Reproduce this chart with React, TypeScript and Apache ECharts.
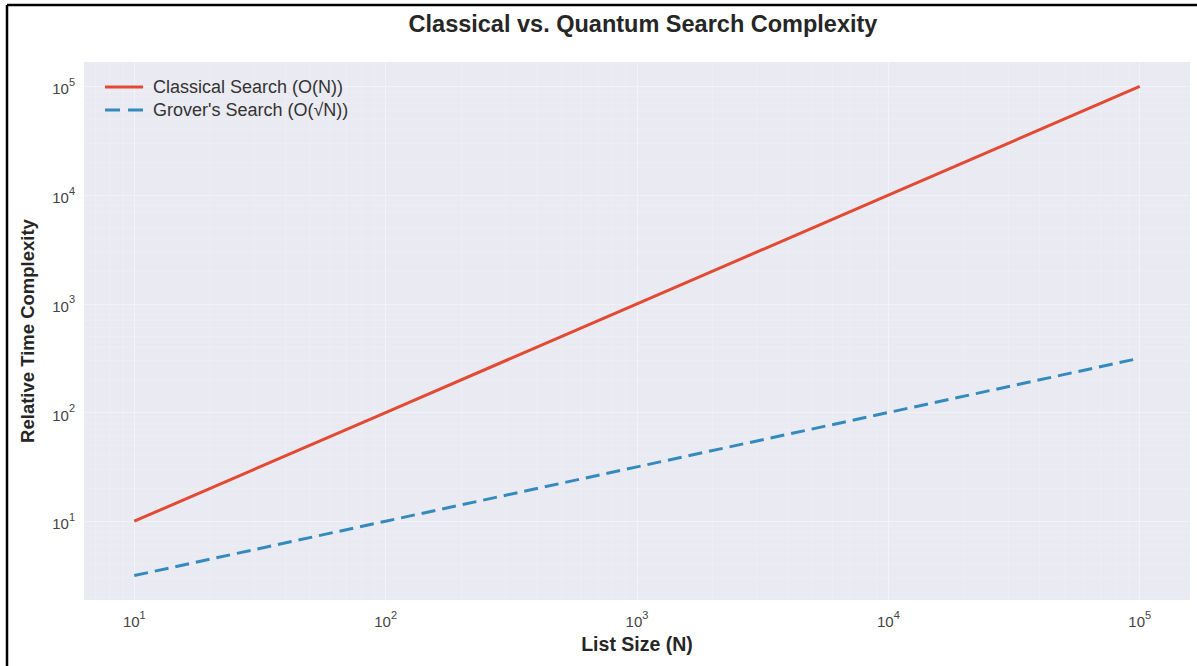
import React, { useEffect, useRef } from "react";
import * as echarts from "echarts";

const listSizes = [10, 100, 1000, 10000, 100000];
const classicalValues = [10, 100, 1000, 10000, 100000];
const groverValues = [3.162, 10, 31.62, 100, 316.2];
const majorTicks = [10, 100, 1000, 10000, 100000];
const tickExponents = ["1", "2", "3", "4", "5"];
const minorMultipliers = [2, 3, 4, 5, 6, 7, 8, 9];
const decades = [1, 10, 100, 1000, 10000];

const X_MIN = 6.3096;
const X_MAX = 158489;
const Y_MIN = 1.884;
const Y_MAX = 167880;

const FONT = "Liberation Sans, Arial, sans-serif";

export default function App() {
  const ref = useRef<HTMLDivElement>(null);
  useEffect(() => {
    document.body.style.margin = "0";
    if (!ref.current) return;
    const chart = echarts.init(ref.current, null, { renderer: "svg" });

    const minorAll: number[] = [];
    decades.forEach((d) => minorMultipliers.forEach((m) => minorAll.push(m * d)));
    const xMinor = minorAll.filter((v) => v > X_MIN && v < X_MAX);
    const yMinor = minorAll.filter((v) => v > Y_MIN && v < Y_MAX);

    const fmt = (v: number) => {
      const i = majorTicks.findIndex((t) => Math.abs(t - v) / t < 1e-6);
      return i >= 0 ? "{b|10}{s|" + tickExponents[i] + "}" : "";
    };
    const rich = {
      b: { fontSize: 15, color: "#444", fontFamily: FONT, lineHeight: 20, verticalAlign: "bottom" },
      s: { fontSize: 11, color: "#444", fontFamily: FONT, lineHeight: 20, verticalAlign: "top" },
    };

    chart.setOption({
      animation: false,
      backgroundColor: "#ffffff",
      textStyle: { fontFamily: FONT },
      title: {
        text: "Classical vs. Quantum Search Complexity",
        left: 638,
        top: 7,
        textAlign: "center",
        textStyle: { fontSize: 23.5, fontWeight: "bold", color: "#262626", fontFamily: FONT },
      },
      legend: {
        data: [
          { name: "Classical Search (O(N))", icon: "path://M0,0H38V3H0Z" },
          { name: "Grover's Search (O(√N))", icon: "path://M0,0H15V3H0Z M23,0H38V3H23Z" },
        ],
        orient: "vertical",
        left: 100,
        top: 73,
        itemWidth: 38,
        itemHeight: 3,
        itemGap: 5,
        textStyle: { fontSize: 18, color: "#333", fontFamily: FONT, padding: [0, 0, 0, 5] },
      },
      grid: { left: 84, top: 62, width: 1106, height: 538, backgroundColor: "#eaeaf2", show: true, borderWidth: 0 },
      xAxis: {
        type: "log",
        logBase: 10,
        min: X_MIN,
        max: X_MAX,
        name: "List Size (N)",
        nameLocation: "middle",
        nameGap: 34,
        nameTextStyle: { fontSize: 19.5, fontWeight: "bold", color: "#262626", fontFamily: FONT },
        axisLine: { show: false },
        axisTick: { show: false, customValues: majorTicks },
        axisLabel: { customValues: majorTicks, formatter: fmt, rich, margin: 9, fontFamily: FONT },
        splitLine: { show: true, lineStyle: { color: "#ffffff", width: 1, opacity: 0.4 } },
      },
      yAxis: {
        type: "log",
        logBase: 10,
        min: Y_MIN,
        max: Y_MAX,
        name: "Relative Time Complexity",
        nameLocation: "middle",
        nameGap: 47,
        nameTextStyle: { fontSize: 18.5, fontWeight: "bold", color: "#262626", fontFamily: FONT },
        axisLine: { show: false },
        axisTick: { show: false, customValues: majorTicks },
        axisLabel: { customValues: majorTicks, formatter: fmt, rich, margin: 9, fontFamily: FONT },
        splitLine: { show: true, lineStyle: { color: "#ffffff", width: 1, opacity: 0.4 } },
      },
      series: [
        {
          type: "custom",
          name: "xminor",
          silent: true,
          z: 1,
          data: xMinor.map((v) => [v, 10]),
          renderItem: (_p: any, api: any) => {
            const v = api.value(0);
            const a = api.coord([v, Y_MIN]);
            const b = api.coord([v, Y_MAX]);
            return { type: "line", shape: { x1: a[0], y1: a[1], x2: b[0], y2: b[1] }, style: { stroke: "#ffffff", lineWidth: 0.6, opacity: 0.3 } };
          },
        },
        {
          type: "custom",
          name: "yminor",
          silent: true,
          z: 1,
          data: yMinor.map((v) => [10, v]),
          renderItem: (_p: any, api: any) => {
            const v = api.value(1);
            const a = api.coord([X_MIN, v]);
            const b = api.coord([X_MAX, v]);
            return { type: "line", shape: { x1: a[0], y1: a[1], x2: b[0], y2: b[1] }, style: { stroke: "#ffffff", lineWidth: 0.6, opacity: 0.3 } };
          },
        },
        {
          type: "line",
          name: "Classical Search (O(N))",
          z: 3,
          symbol: "none",
          data: listSizes.map((n, i) => [n, classicalValues[i]]),
          lineStyle: { color: "#e24a33", width: 3 },
          itemStyle: { color: "#e24a33" },
        },
        {
          type: "line",
          name: "Grover's Search (O(√N))",
          z: 3,
          symbol: "none",
          data: listSizes.map((n, i) => [n, groverValues[i]]),
          lineStyle: { color: "#348abd", width: 3, type: [14, 7] },
          itemStyle: { color: "#348abd" },
        },
      ],
      graphic: [
        { type: "line", shape: { x1: 7, y1: 5, x2: 1197, y2: 5 }, style: { stroke: "#000", lineWidth: 2.5 } },
        { type: "line", shape: { x1: 7, y1: 5, x2: 7, y2: 666 }, style: { stroke: "#000", lineWidth: 2.5 } },
      ],
    });
    return () => chart.dispose();
  }, []);
  return <div ref={ref} style={{ width: 1197, height: 666, position: "absolute", left: 0, top: 0 }} />;
}
